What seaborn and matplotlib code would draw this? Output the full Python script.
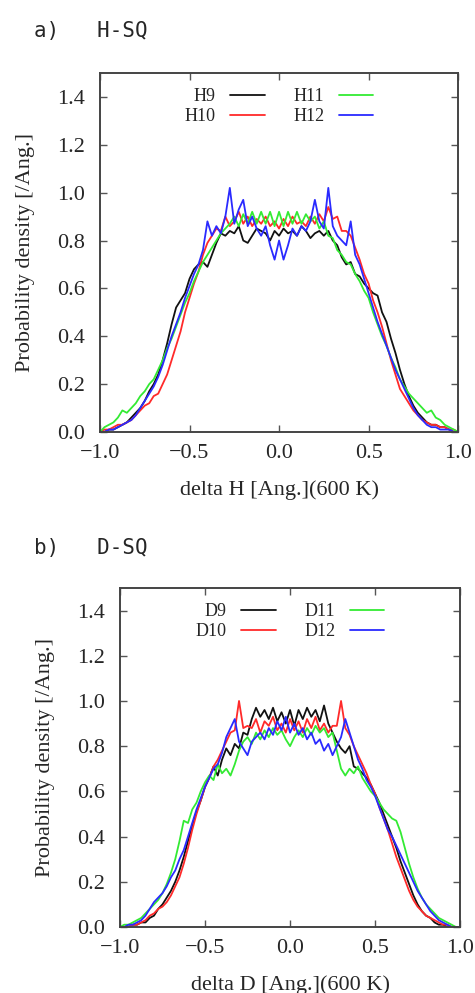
import matplotlib
matplotlib.use("Agg")
import matplotlib.pyplot as plt
import numpy as np
import pandas as pd
import seaborn as sns

# x grid shared by all curves (-1.0 .. 1.0, step 0.025)
x_vals = np.round(np.arange(-1.0, 1.0001, 0.025), 3)

# ---- panel a: H-SQ ----
h9 = [0.00, 0.00, 0.01, 0.01, 0.02, 0.03, 0.04, 0.06, 0.08, 0.10,
      0.13, 0.17, 0.20, 0.24, 0.30, 0.37, 0.45, 0.52, 0.55, 0.58,
      0.64, 0.68, 0.70, 0.71, 0.69, 0.74, 0.79, 0.83, 0.82, 0.84,
      0.83, 0.86, 0.80, 0.79, 0.82, 0.85, 0.84, 0.83, 0.80, 0.84,
      0.82,
      0.85, 0.83, 0.84, 0.82, 0.86, 0.84, 0.81, 0.83, 0.84, 0.82,
      0.84, 0.80, 0.78, 0.73, 0.70, 0.71, 0.66, 0.65, 0.62, 0.60,
      0.58, 0.57, 0.50, 0.46, 0.39, 0.33, 0.26, 0.20, 0.15, 0.11,
      0.08, 0.06, 0.04, 0.03, 0.03, 0.02, 0.02, 0.01, 0.00, 0.00]
h10 = [0.00, 0.01, 0.01, 0.02, 0.03, 0.03, 0.04, 0.05, 0.07, 0.09,
       0.11, 0.12, 0.15, 0.16, 0.20, 0.24, 0.30, 0.36, 0.42, 0.50,
       0.56, 0.62, 0.67, 0.74, 0.79, 0.82, 0.85, 0.84, 0.90, 0.86,
       0.88, 0.92, 0.87, 0.90, 0.86, 0.89, 0.87, 0.90, 0.86, 0.88,
       0.85,
       0.89, 0.86, 0.90, 0.87, 0.88, 0.86, 0.90, 0.87, 0.91, 0.88,
       0.94, 0.89, 0.90, 0.84, 0.84, 0.82, 0.77, 0.72, 0.66, 0.62,
       0.55, 0.50, 0.44, 0.37, 0.30, 0.24, 0.18, 0.15, 0.12, 0.09,
       0.07, 0.05, 0.04, 0.03, 0.03, 0.02, 0.02, 0.01, 0.01, 0.00]
h11 = [0.00, 0.02, 0.03, 0.04, 0.06, 0.09, 0.08, 0.10, 0.12, 0.15,
       0.17, 0.20, 0.22, 0.26, 0.30, 0.35, 0.39, 0.44, 0.49, 0.54,
       0.58, 0.63, 0.67, 0.71, 0.74, 0.77, 0.80, 0.83, 0.85, 0.87,
       0.90, 0.86, 0.91, 0.87, 0.92, 0.87, 0.92, 0.87, 0.92, 0.86,
       0.92,
       0.86, 0.92, 0.87, 0.92, 0.87, 0.91, 0.88, 0.90, 0.85, 0.88,
       0.82, 0.81, 0.76, 0.74, 0.71, 0.70, 0.66, 0.63, 0.59, 0.56,
       0.50, 0.45, 0.40, 0.36, 0.31, 0.27, 0.22, 0.19, 0.16, 0.14,
       0.12, 0.10, 0.08, 0.09, 0.06, 0.05, 0.03, 0.02, 0.01, 0.00]
h12 = [0.00, 0.00, 0.01, 0.01, 0.02, 0.03, 0.04, 0.05, 0.07, 0.10,
       0.13, 0.16, 0.19, 0.23, 0.28, 0.34, 0.40, 0.45, 0.50, 0.56,
       0.61, 0.66, 0.70, 0.76, 0.88, 0.82, 0.86, 0.83, 0.90, 1.02,
       0.87, 0.93, 0.97, 0.86, 0.90, 0.85, 0.82, 0.86, 0.78, 0.72,
       0.80,
       0.72, 0.78, 0.85, 0.82, 0.86, 0.84, 0.88, 0.97, 0.88, 0.85,
       1.02, 0.86, 0.82, 0.80, 0.78, 0.88, 0.74, 0.70, 0.64, 0.58,
       0.52, 0.46, 0.41, 0.36, 0.31, 0.26, 0.22, 0.18, 0.14, 0.10,
       0.07, 0.05, 0.03, 0.02, 0.02, 0.01, 0.01, 0.01, 0.00, 0.00]

# ---- panel b: D-SQ ----
d9 = [0.00, 0.00, 0.00, 0.01, 0.01, 0.02, 0.02, 0.04, 0.05, 0.08,
      0.10, 0.13, 0.16, 0.20, 0.25, 0.31, 0.38, 0.45, 0.51, 0.56,
      0.62, 0.66, 0.71, 0.67, 0.74, 0.79, 0.76, 0.81, 0.79, 0.86,
      0.85, 0.92, 0.97, 0.93, 0.96, 0.92, 0.97, 0.91, 0.95, 0.90,
      0.96,
      0.89, 0.96, 0.92, 0.97, 0.93, 0.96, 0.91, 0.98, 0.90, 0.86,
      0.82, 0.79, 0.77, 0.80, 0.71, 0.70, 0.68, 0.66, 0.63, 0.59,
      0.55, 0.50, 0.45, 0.40, 0.35, 0.29, 0.24, 0.19, 0.14, 0.10,
      0.07, 0.05, 0.04, 0.02, 0.01, 0.01, 0.00, 0.00, 0.00, 0.00]
d10 = [0.00, 0.00, 0.00, 0.01, 0.01, 0.02, 0.03, 0.05, 0.06, 0.08,
       0.09, 0.11, 0.14, 0.18, 0.22, 0.28, 0.35, 0.43, 0.50, 0.56,
       0.62, 0.66, 0.71, 0.74, 0.78, 0.82, 0.86, 0.87, 1.00, 0.88,
       0.89, 0.88, 0.92, 0.86, 0.91, 0.89, 0.93, 0.87, 0.90, 0.86,
       0.92,
       0.87, 0.91, 0.86, 0.92, 0.88, 0.93, 0.87, 0.90, 0.86, 0.89,
       0.89, 1.00, 0.88, 0.85, 0.80, 0.76, 0.72, 0.68, 0.63, 0.59,
       0.53, 0.48, 0.43, 0.37, 0.31, 0.26, 0.21, 0.16, 0.12, 0.09,
       0.07, 0.05, 0.04, 0.03, 0.02, 0.01, 0.01, 0.00, 0.00, 0.00]
d11 = [0.00, 0.01, 0.01, 0.02, 0.03, 0.04, 0.06, 0.08, 0.10, 0.12,
       0.15, 0.19, 0.24, 0.30, 0.38, 0.47, 0.46, 0.52, 0.55, 0.60,
       0.64, 0.67, 0.65, 0.72, 0.68, 0.70, 0.67, 0.72, 0.78, 0.82,
       0.84, 0.81, 0.86, 0.83, 0.87, 0.84, 0.88, 0.85, 0.87, 0.83,
       0.80,
       0.84, 0.87, 0.84, 0.88, 0.85, 0.89, 0.86, 0.88, 0.84, 0.86,
       0.78, 0.70, 0.67, 0.70, 0.68, 0.71, 0.66, 0.63, 0.60, 0.58,
       0.55, 0.52, 0.50, 0.48, 0.47, 0.42, 0.35, 0.28, 0.22, 0.17,
       0.13, 0.10, 0.08, 0.06, 0.04, 0.03, 0.02, 0.01, 0.00, 0.00]
d12 = [0.00, 0.00, 0.01, 0.01, 0.02, 0.03, 0.05, 0.08, 0.11, 0.13,
       0.15, 0.18, 0.22, 0.25, 0.30, 0.34, 0.40, 0.46, 0.52, 0.57,
       0.62, 0.66, 0.70, 0.72, 0.77, 0.84, 0.88, 0.92, 0.82, 0.79,
       0.76, 0.82, 0.84, 0.86, 0.83, 0.88, 0.85, 0.91, 0.87, 0.93,
       0.86,
       0.90, 0.85, 0.88, 0.83, 0.86, 0.81, 0.83, 0.78, 0.81, 0.76,
       0.80, 0.84, 0.92, 0.86, 0.80, 0.74, 0.70, 0.65, 0.62, 0.58,
       0.53, 0.48, 0.43, 0.40, 0.36, 0.32, 0.28, 0.24, 0.20, 0.16,
       0.13, 0.10, 0.07, 0.05, 0.03, 0.02, 0.01, 0.00, 0.00, 0.00]

panels = [
    {"title": "a)   H-SQ", "xlabel": "delta H [Ang.](600 K)",
     "names": ["H9", "H10", "H11", "H12"], "series": [h9, h10, h11, h12]},
    {"title": "b)   D-SQ", "xlabel": "delta D [Ang.](600 K)",
     "names": ["D9", "D10", "D11", "D12"], "series": [d9, d10, d11, d12]},
]
colors = ["#111111", "#ff2a2a", "#33ea33", "#2a2aff"]

sns.set_style("ticks")
plt.rcParams["font.family"] = ["Liberation Serif", "DejaVu Serif"]

fig = plt.figure(figsize=(4.75, 9.93), dpi=100)
ax_boxes = [[0.2105, 0.565, 0.754, 0.3615], [0.2526, 0.0665, 0.716, 0.3414]]
title_y = [0.969, 0.448]

for p, box, ty in zip(panels, ax_boxes, title_y):
    ax = fig.add_axes(box)
    df = pd.concat([pd.DataFrame({"x": x_vals, "y": s, "series": n})
                    for n, s in zip(p["names"], p["series"])])
    sns.lineplot(data=df, x="x", y="y", hue="series", palette=colors,
                 linewidth=1.3, ax=ax, legend=True)
    ax.set_xlim(-1.0, 1.0)
    ax.set_ylim(0.0, 1.5)
    ax.set_xticks([-1.0, -0.5, 0.0, 0.5, 1.0])
    ax.set_yticks([0.0, 0.2, 0.4, 0.6, 0.8, 1.0, 1.2, 1.4])
    ax.set_xticklabels(["\u22121.0", "\u22120.5", "0.0", "0.5", "1.0"])
    ax.tick_params(direction="in", top=True, right=True, length=5,
                   width=1, color="#555555", labelsize=16)
    ax.tick_params(axis="y", pad=11)
    ax.tick_params(axis="x", pad=9)
    for sp in ax.spines.values():
        sp.set_color("#444444")
        sp.set_linewidth(1.4)
    ax.set_xlabel(p["xlabel"], fontsize=16, labelpad=12)
    ax.set_ylabel("Probability density [/Ang.]", fontsize=16, labelpad=16)
    ax.legend(ncol=2, loc="upper center", frameon=False, markerfirst=False,
              fontsize=13, handlelength=1.9, columnspacing=1.6,
              labelspacing=0.15, borderaxespad=0.45, title=None)
    fig.text(0.072, ty, p["title"], fontsize=15,
             family=["DejaVu Sans Mono"], va="center", ha="left")

fig.savefig("out.png", dpi=100)
